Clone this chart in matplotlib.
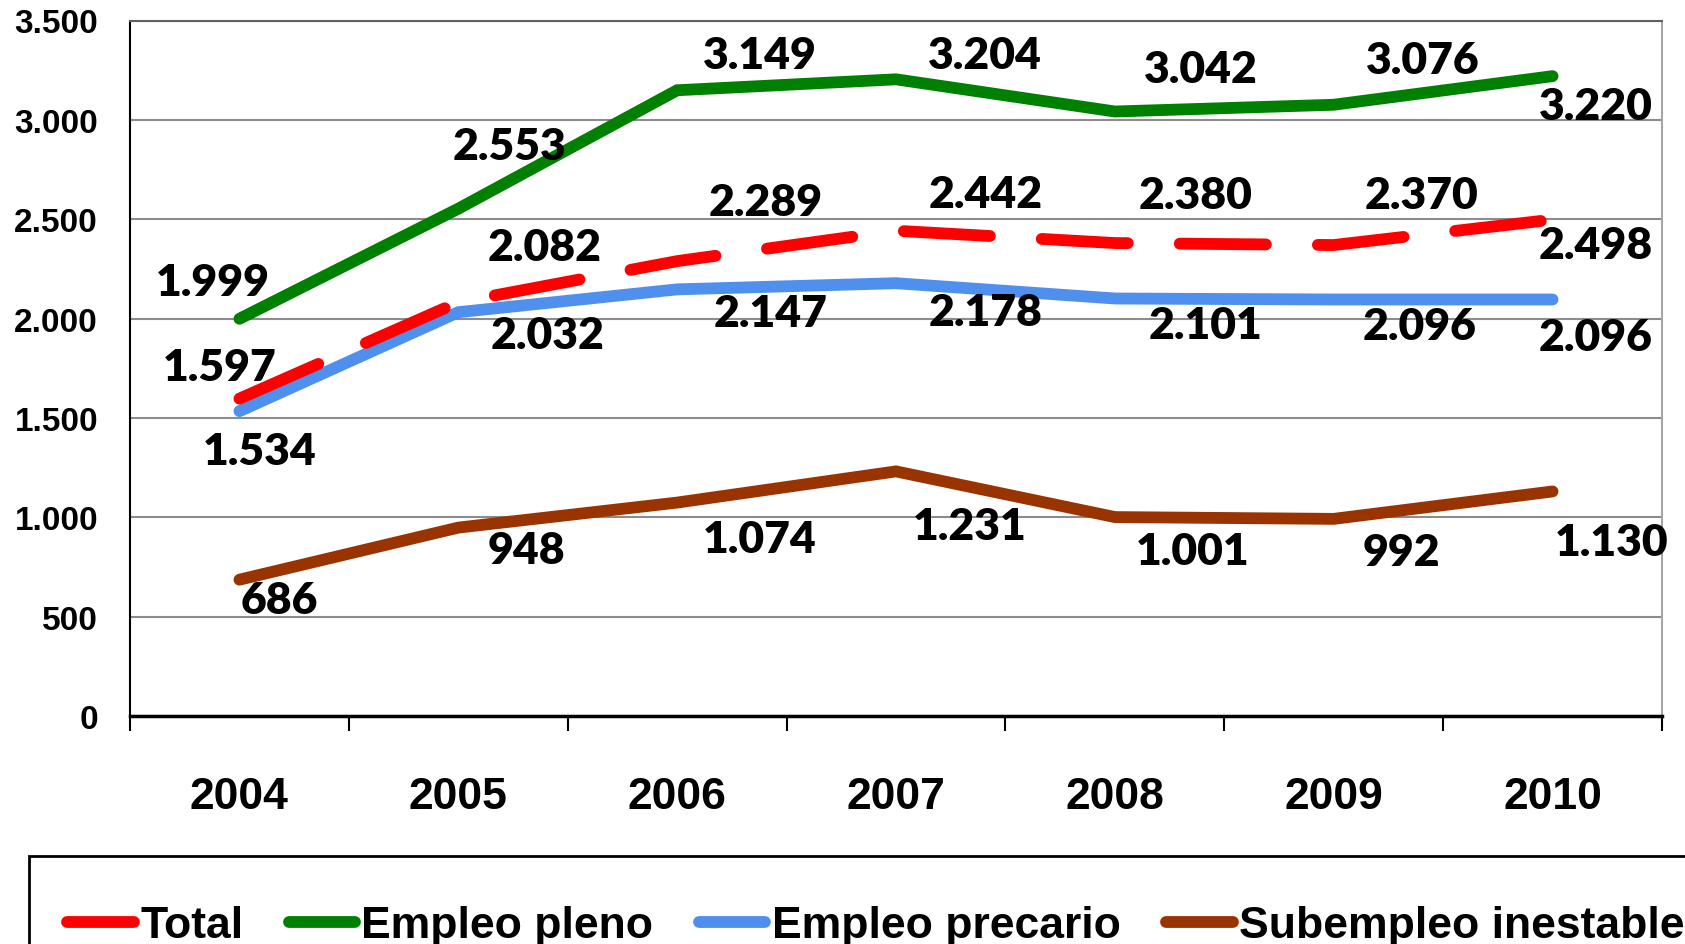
import matplotlib
matplotlib.use("Agg")
import matplotlib.pyplot as plt
from matplotlib.ticker import FuncFormatter, FixedLocator
from matplotlib.patches import Rectangle
import numpy as np

years = ["2004", "2005", "2006", "2007", "2008", "2009", "2010"]
total = [1597, 2082, 2289, 2442, 2380, 2370, 2498]
pleno = [1999, 2553, 3149, 3204, 3042, 3076, 3220]
precario = [1534, 2032, 2147, 2178, 2101, 2096, 2096]
subempleo = [686, 948, 1074, 1231, 1001, 992, 1130]
series_names = ["Total", "Empleo pleno", "Empleo precario", "Subempleo inestable"]

# label offsets (reference px, y down) relative to the data point
off_total = [(-18, -29), (80, -51), (82, -55), (83, -34), (75, -45), (82, -47), (40, 24)]
off_pleno = [(-25, -34), (48, -58), (77, -33), (83, -23), (80, -40), (83, -42), (40, 28)]
off_precario = [(19, 37), (83, 21), (87, 22), (83, 27), (84, 25), (80, 25), (40, 35)]
off_sub = [(37, 19), (63, 21), (77, 34), (69, 51), (72, 32), (63, 31), (55, 47)]

colors = ["#FF0000", "#008000", "#4F8FEE", "#993300"]

fig = plt.figure(figsize=(16.85, 9.45), dpi=100)
ax = fig.add_axes([130 / 1685, 1 - 717 / 945, (1662 - 130) / 1685, (717 - 21.5) / 945])

x = np.arange(len(years))
lw = 8.5
data = [total, pleno, precario, subempleo]
offs = [off_total, off_pleno, off_precario, off_sub]
for i, (vals, c, name) in enumerate(zip(data, colors, series_names)):
    if i == 0:
        ax.plot(x, vals, color=c, lw=lw, dashes=(7.3, 4.4), dash_capstyle="round",
                solid_joinstyle="round", label=name, zorder=4)
    else:
        ax.plot(x, vals, color=c, lw=lw, solid_capstyle="round",
                solid_joinstyle="miter", label=name, zorder=3)

fmt = lambda v: f"{v:,.0f}".replace(",", ".")
k = 1.0746 * 0.72
label_font = dict(family=["Lato", "DejaVu Sans"], weight="heavy", size=32)
for vals, off in zip(data, offs):
    for xi, v, (dx, dy) in zip(x, vals, off):
        ax.annotate(fmt(v), (xi, v), xytext=(dx * k, -dy * k), textcoords="offset points",
                    ha="center", va="center", zorder=6, **label_font)

ax.set_xlim(-0.5, 6.5)
ax.set_ylim(0, 3500)
ax.set_yticks(np.arange(0, 3501, 500))
ax.yaxis.set_major_formatter(FuncFormatter(lambda v, p: fmt(v)))
ax.set_xticks(x)
ax.set_xticklabels(years)
ax.xaxis.set_minor_locator(FixedLocator(np.arange(-0.5, 7, 1)))
ax.tick_params(axis="x", which="major", length=0, pad=43.5)
ax.tick_params(axis="x", which="minor", length=10.8, width=1.5, color="black", direction="out")
ax.tick_params(axis="y", length=0, pad=23)
for lab in ax.get_xticklabels():
    lab.set_fontfamily(["Liberation Sans", "DejaVu Sans"])
    lab.set_fontweight("bold")
    lab.set_fontsize(32)
for lab in ax.get_yticklabels():
    lab.set_fontfamily(["Liberation Sans", "DejaVu Sans"])
    lab.set_fontweight("bold")
    lab.set_fontsize(24)

ax.grid(axis="y", color="#8C8C8C", lw=1.5)
ax.set_axisbelow(True)
ax.spines["left"].set_color("black")
ax.spines["left"].set_linewidth(1.5)
ax.spines["bottom"].set_color("black")
ax.spines["bottom"].set_linewidth(2.5)
ax.spines["top"].set_color("#606060")
ax.spines["top"].set_linewidth(1.5)
ax.spines["right"].set_color("#A6A6A6")
ax.spines["right"].set_linewidth(1.5)
ax.spines["bottom"].set_zorder(5)

# legend frame
fig.patches.append(Rectangle((29 / 1685, -0.1), 1.0, 1 - 857 / 945 + 0.1, transform=fig.transFigure,
                             fill=False, edgecolor="black", lw=2))
handles = [plt.Line2D([], [], color=c, lw=lw, solid_capstyle="round") for c in colors]
leg = fig.legend(handles, series_names, loc="upper left", bbox_to_anchor=(29 / 1685, 1 - 868 / 945),
                 ncol=4, frameon=False,
                 prop=dict(family=["Liberation Sans", "DejaVu Sans"], weight="bold", size=32),
                 handlelength=1.5, handletextpad=0.14, columnspacing=1.02, borderpad=0.86,
                 borderaxespad=0)

fig.savefig("out.png", dpi=100)
